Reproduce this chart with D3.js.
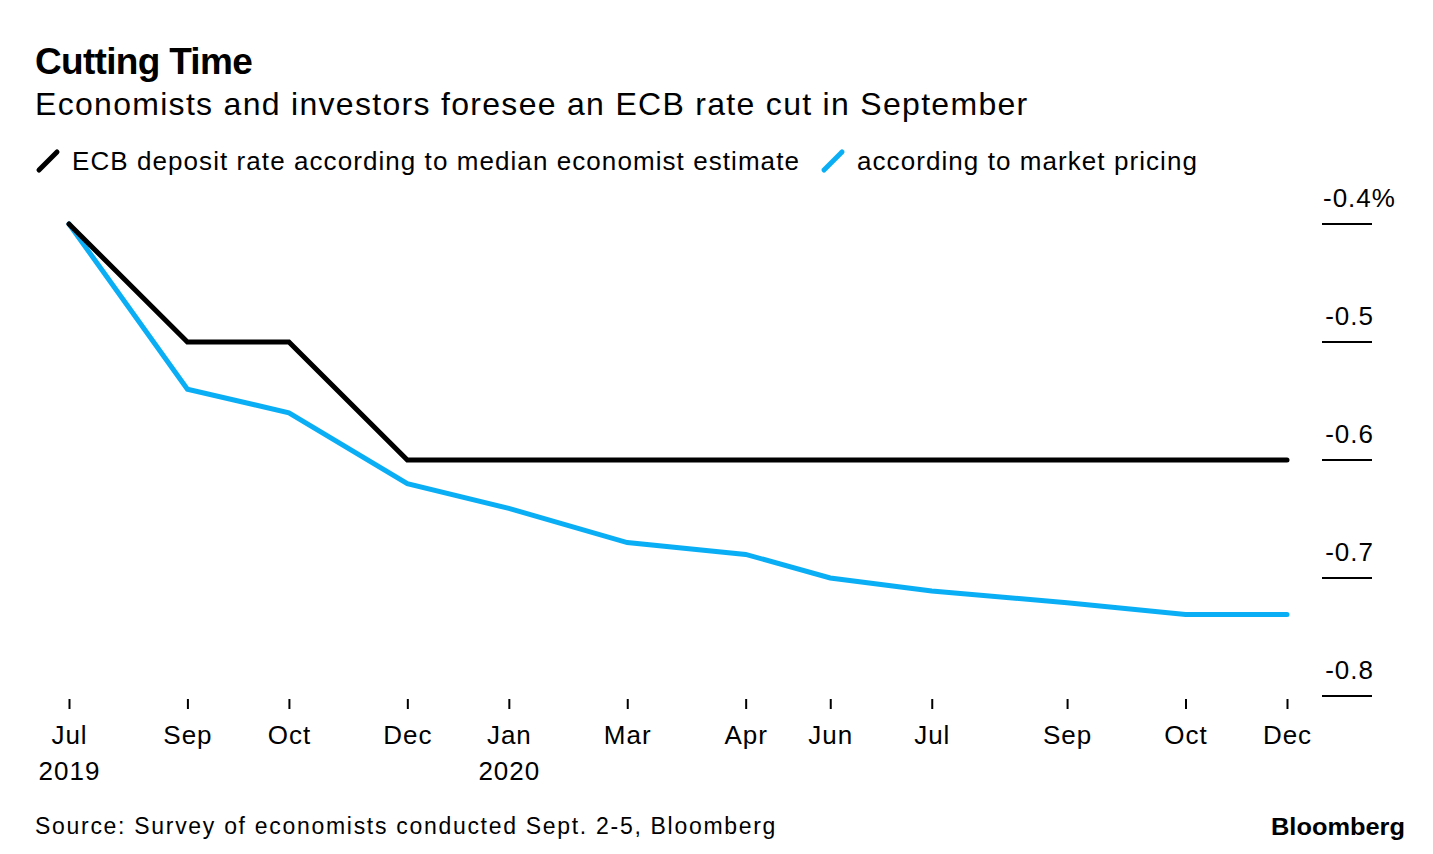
<!DOCTYPE html>
<html>
<head>
<meta charset="utf-8">
<script src="https://cdn.jsdelivr.net/npm/d3@7"></script>
<style>
  body { margin: 0; background: #fff; }
  svg text { font-family: "Liberation Sans", Arial, sans-serif; fill: #000; }
</style>
</head>
<body>
<div class="chart"></div>
<script>
// ECB policy meeting dates (x positions follow the calendar)
var meetings = ["2019-07-25", "2019-09-12", "2019-10-24", "2019-12-12", "2020-01-23", "2020-03-12",
  "2020-04-30", "2020-06-04", "2020-07-16", "2020-09-10", "2020-10-29", "2020-12-10"];
var economists = [-0.4, -0.5, -0.5, -0.6, -0.6, -0.6, -0.6, -0.6, -0.6, -0.6, -0.6, -0.6];
var market = [-0.4, -0.54, -0.56, -0.62, -0.641, -0.67, -0.68, -0.70, -0.711, -0.721, -0.731, -0.731];
var yTicks = [-0.4, -0.5, -0.6, -0.7, -0.8];
var yearLabels = {"2019-07-25": "2019", "2020-01-23": "2020"};

var W = 1433, H = 854;
var parse = d3.timeParse("%Y-%m-%d");
var dates = meetings.map(parse);

var svg = d3.select(".chart").append("svg").attr("width", W).attr("height", H);

var x = d3.scaleTime().domain([dates[0], dates[dates.length - 1]]).range([69, 1287]);
var y = d3.scaleLinear().domain([-0.4, -0.8]).range([224, 696]);

// titles
svg.append("text").attr("x", 35).attr("y", 74).style("font-size", "37px").style("font-weight", "bold")
  .style("letter-spacing", "-0.7px").text("Cutting Time");
svg.append("text").attr("x", 35).attr("y", 115).style("font-size", "32px")
  .style("letter-spacing", "1.3px")
  .text("Economists and investors foresee an ECB rate cut in September");

// legend
var legend = [
  {label: "ECB deposit rate according to median economist estimate", color: "#000", x: 37},
  {label: "according to market pricing", color: "#0aaef5", x: 822}
];
legend.forEach(function(d) {
  svg.append("line").attr("x1", d.x + 2).attr("y1", 170).attr("x2", d.x + 20).attr("y2", 152)
    .attr("stroke", d.color).attr("stroke-width", 5).attr("stroke-linecap", "round");
  svg.append("text").attr("x", d.x + 35).attr("y", 170).style("font-size", "26px")
    .style("letter-spacing", "1.07px").text(d.label);
});

// y axis on the right, labels sit above short rules
var yAxis = svg.append("g").attr("class", "y axis");
yTicks.forEach(function(v, i) {
  yAxis.append("line").attr("x1", 1322).attr("x2", 1372).attr("y1", y(v)).attr("y2", y(v))
    .attr("stroke", "#000").attr("stroke-width", 2);
  var t = yAxis.append("text").attr("x", 1374).attr("y", y(v) - 17).style("font-size", "26px")
    .style("letter-spacing", "1px").attr("text-anchor", "end").text(v.toFixed(1));
  if (i === 0) {
    t.append("tspan").text("%");
    t.attr("text-anchor", "start").attr("x", 1323);
  }
});

// x axis ticks at meeting dates
var xAxis = svg.append("g").attr("class", "x axis").attr("transform", "translate(0,699)")
  .call(d3.axisBottom(x).tickValues(dates).tickSize(10).tickPadding(17)
    .tickFormat(d3.timeFormat("%b")));
xAxis.select(".domain").remove();
xAxis.selectAll(".tick line").attr("stroke", "#000").attr("stroke-width", 2);
xAxis.selectAll(".tick text").style("font-size", "26px").style("letter-spacing", "1px")
  .style("font-family", null).attr("fill", "#000");
xAxis.selectAll(".tick").each(function(d) {
  var key = d3.timeFormat("%Y-%m-%d")(d);
  if (yearLabels[key]) {
    d3.select(this).append("text").attr("y", 81).attr("text-anchor", "middle")
      .style("font-size", "26px").style("letter-spacing", "1px").text(yearLabels[key]);
  }
});

// lines
var line = d3.line().x(function(d, i) { return x(dates[i]); }).y(function(d) { return y(d); });
svg.append("path").datum(market).attr("d", line).attr("fill", "none")
  .attr("stroke", "#0aaef5").attr("stroke-width", 5).attr("stroke-linecap", "round");
svg.append("path").datum(economists).attr("d", line).attr("fill", "none")
  .attr("stroke", "#000").attr("stroke-width", 5).attr("stroke-linecap", "round");

// footer
svg.append("text").attr("x", 35).attr("y", 834).style("font-size", "23px")
  .style("letter-spacing", "1.7px").text("Source: Survey of economists conducted Sept. 2-5, Bloomberg");
svg.append("text").attr("x", 1271).attr("y", 835).style("font-size", "23px")
  .style("font-weight", "bold").attr("textLength", 134).attr("lengthAdjust", "spacingAndGlyphs")
  .text("Bloomberg");
</script>
</body>
</html>
